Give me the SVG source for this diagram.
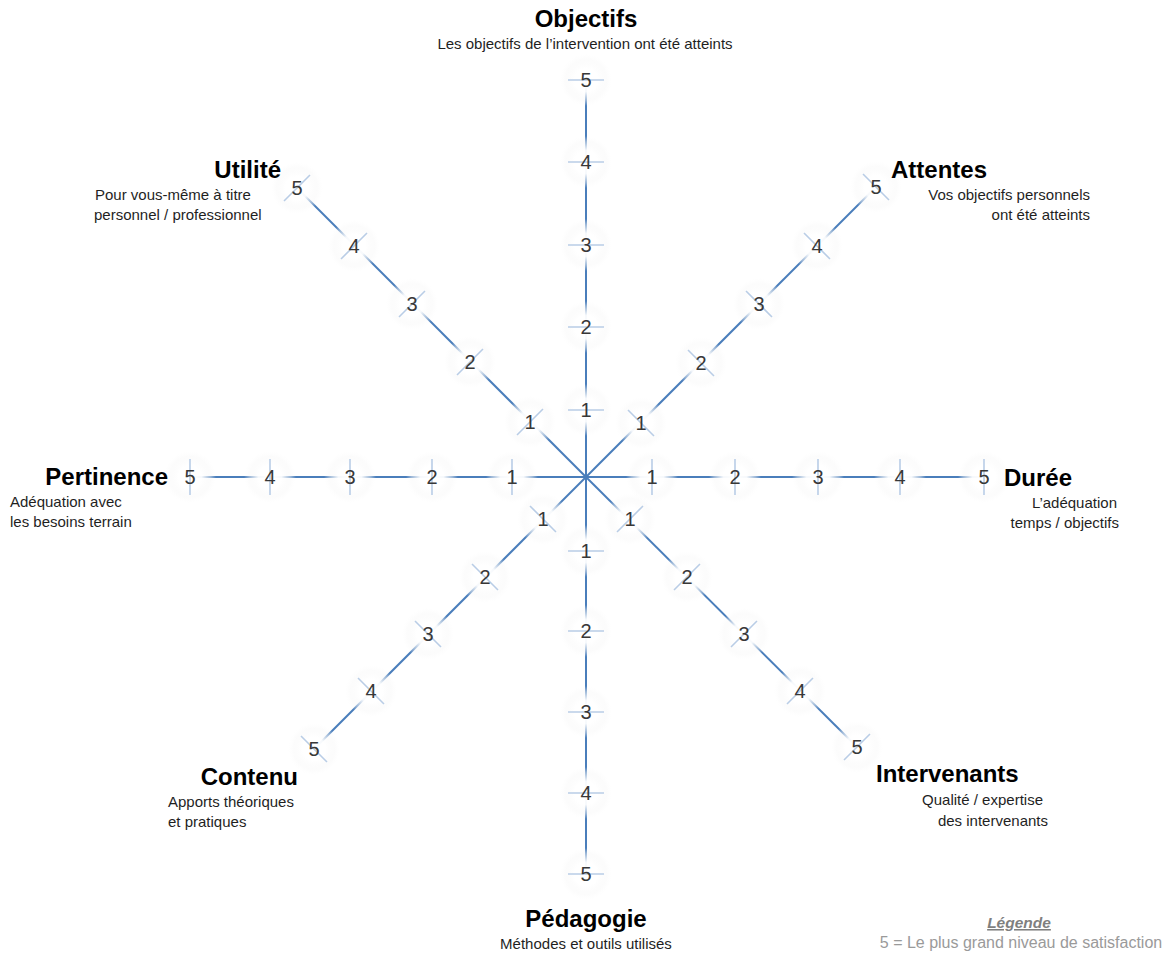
<svg xmlns="http://www.w3.org/2000/svg" width="1174" height="956" viewBox="0 0 1174 956">
<style>
.axis{stroke:#4a7ebb;stroke-width:2;fill:none}
.tick{stroke:#b9cde6;stroke-width:1.6;fill:none}
.num{font-family:"Liberation Sans",Arial,sans-serif;font-size:20px;fill:#383838;text-anchor:middle}
.title{font-family:"Liberation Sans",Arial,sans-serif;font-size:24px;font-weight:bold;fill:#000}
.sub{font-family:"Liberation Sans",Arial,sans-serif;font-size:15px;fill:#1f1f1f}
.halo{fill:url(#haloGrad)}
.legt{font-family:"Liberation Sans",Arial,sans-serif;font-size:15.5px;font-weight:bold;font-style:italic;text-decoration:underline;fill:#7f7f7f;text-anchor:middle}
.legs{font-family:"Liberation Sans",Arial,sans-serif;font-size:16px;fill:#9a9a9a;text-anchor:middle}
</style>
<defs>
<radialGradient id="haloGrad" cx="0.5" cy="0.5" r="0.5">
<stop offset="0" stop-color="#ffffff" stop-opacity="1"/>
<stop offset="0.45" stop-color="#ffffff" stop-opacity="0.95"/>
<stop offset="0.8" stop-color="#f8f8f8" stop-opacity="0.45"/>
<stop offset="1" stop-color="#fbfbfb" stop-opacity="0"/>
</radialGradient>
</defs>
<rect width="1174" height="956" fill="#ffffff"/>

<g id="connectors">
<line class="axis" x1="586" y1="80" x2="586" y2="874"/>
<line class="axis" x1="190" y1="477" x2="984" y2="477"/>
<line class="axis" x1="297" y1="188" x2="586" y2="477"/>
<line class="axis" x1="876" y1="187" x2="586" y2="477"/>
<line class="axis" x1="586" y1="477" x2="857" y2="747"/>
<line class="axis" x1="586" y1="477" x2="314" y2="749"/>
</g>

<g id="scale-objectifs">
<circle class="halo" cx="586" cy="410" r="26"/><circle class="halo" cx="586" cy="327" r="26"/><circle class="halo" cx="586" cy="245" r="26"/><circle class="halo" cx="586" cy="162" r="26"/><circle class="halo" cx="586" cy="80" r="26"/>
<path class="tick" d="M568 410H604M568 327H604M568 245H604M568 162H604M568 80H604"/>
<text class="num" x="586" y="417">1</text><text class="num" x="586" y="334">2</text><text class="num" x="586" y="252">3</text><text class="num" x="586" y="169">4</text><text class="num" x="586" y="87">5</text>
</g>
<g id="scale-pedagogie">
<circle class="halo" cx="586" cy="551" r="26"/><circle class="halo" cx="586" cy="631" r="26"/><circle class="halo" cx="586" cy="712" r="26"/><circle class="halo" cx="586" cy="793" r="26"/><circle class="halo" cx="586" cy="874" r="26"/>
<path class="tick" d="M568 551H604M568 631H604M568 712H604M568 793H604M568 874H604"/>
<text class="num" x="586" y="558">1</text><text class="num" x="586" y="638">2</text><text class="num" x="586" y="719">3</text><text class="num" x="586" y="800">4</text><text class="num" x="586" y="881">5</text>
</g>
<g id="scale-duree">
<circle class="halo" cx="652" cy="477" r="26"/><circle class="halo" cx="735" cy="477" r="26"/><circle class="halo" cx="818" cy="477" r="26"/><circle class="halo" cx="900" cy="477" r="26"/><circle class="halo" cx="984" cy="477" r="26"/>
<path class="tick" d="M652 459V495M735 459V495M818 459V495M900 459V495M984 459V495"/>
<text class="num" x="652" y="484">1</text><text class="num" x="735" y="484">2</text><text class="num" x="818" y="484">3</text><text class="num" x="900" y="484">4</text><text class="num" x="984" y="484">5</text>
</g>
<g id="scale-pertinence">
<circle class="halo" cx="512" cy="477" r="26"/><circle class="halo" cx="432" cy="477" r="26"/><circle class="halo" cx="350" cy="477" r="26"/><circle class="halo" cx="270" cy="477" r="26"/><circle class="halo" cx="190" cy="477" r="26"/>
<path class="tick" d="M512 459V495M432 459V495M350 459V495M270 459V495M190 459V495"/>
<text class="num" x="512" y="484">1</text><text class="num" x="432" y="484">2</text><text class="num" x="350" y="484">3</text><text class="num" x="270" y="484">4</text><text class="num" x="190" y="484">5</text>
</g>
<g id="scale-attentes">
<circle class="halo" cx="641" cy="423" r="26"/><circle class="halo" cx="701" cy="363" r="26"/><circle class="halo" cx="759" cy="304" r="26"/><circle class="halo" cx="817" cy="246" r="26"/><circle class="halo" cx="876" cy="187" r="26"/>
<path class="tick" d="M628 410L654 436M688 350L714 376M746 291L772 317M804 233L830 259M863 174L889 200"/>
<text class="num" x="641" y="430">1</text><text class="num" x="701" y="370">2</text><text class="num" x="759" y="311">3</text><text class="num" x="817" y="253">4</text><text class="num" x="876" y="194">5</text>
</g>
<g id="scale-utilite">
<circle class="halo" cx="530" cy="422" r="26"/><circle class="halo" cx="470" cy="362" r="26"/><circle class="halo" cx="412" cy="304" r="26"/><circle class="halo" cx="354" cy="246" r="26"/><circle class="halo" cx="297" cy="188" r="26"/>
<path class="tick" d="M517 435L543 409M457 375L483 349M399 317L425 291M341 259L367 233M284 201L310 175"/>
<text class="num" x="530" y="429">1</text><text class="num" x="470" y="369">2</text><text class="num" x="412" y="311">3</text><text class="num" x="354" y="253">4</text><text class="num" x="297" y="195">5</text>
</g>
<g id="scale-intervenants">
<circle class="halo" cx="630" cy="519" r="26"/><circle class="halo" cx="687" cy="577" r="26"/><circle class="halo" cx="744" cy="634" r="26"/><circle class="halo" cx="800" cy="691" r="26"/><circle class="halo" cx="857" cy="747" r="26"/>
<path class="tick" d="M617 532L643 506M674 590L700 564M731 647L757 621M787 704L813 678M844 760L870 734"/>
<text class="num" x="630" y="526">1</text><text class="num" x="687" y="584">2</text><text class="num" x="744" y="641">3</text><text class="num" x="800" y="698">4</text><text class="num" x="857" y="754">5</text>
</g>
<g id="scale-contenu">
<circle class="halo" cx="543" cy="519" r="26"/><circle class="halo" cx="485" cy="577" r="26"/><circle class="halo" cx="428" cy="634" r="26"/><circle class="halo" cx="371" cy="691" r="26"/><circle class="halo" cx="314" cy="749" r="26"/>
<path class="tick" d="M530 506L556 532M472 564L498 590M415 621L441 647M358 678L384 704M301 736L327 762"/>
<text class="num" x="543" y="526">1</text><text class="num" x="485" y="584">2</text><text class="num" x="428" y="641">3</text><text class="num" x="371" y="698">4</text><text class="num" x="314" y="756">5</text>
</g>

<g id="node-objectifs">
<text class="title" x="586" y="27" text-anchor="middle">Objectifs</text>
<text class="sub" x="585" y="49" text-anchor="middle">Les objectifs de l’intervention ont été atteints</text>
</g>
<g id="node-attentes">
<text class="title" x="891" y="178">Attentes</text>
<text class="sub" x="1090" y="200" text-anchor="end">Vos objectifs personnels</text>
<text class="sub" x="1090" y="220" text-anchor="end">ont été atteints</text>
</g>
<g id="node-utilite">
<text class="title" x="281" y="178" text-anchor="end">Utilité</text>
<text class="sub" x="95" y="200">Pour vous-même à titre</text>
<text class="sub" x="94" y="220">personnel / professionnel</text>
</g>
<g id="node-pertinence">
<text class="title" x="168" y="485" text-anchor="end">Pertinence</text>
<text class="sub" x="10" y="507">Adéquation avec</text>
<text class="sub" x="10" y="527">les besoins terrain</text>
</g>
<g id="node-duree">
<text class="title" x="1004" y="486">Durée</text>
<text class="sub" x="1117" y="508" text-anchor="end">L’adéquation</text>
<text class="sub" x="1119" y="528" text-anchor="end">temps / objectifs</text>
</g>
<g id="node-contenu">
<text class="title" x="298" y="785" text-anchor="end">Contenu</text>
<text class="sub" x="168" y="807">Apports théoriques</text>
<text class="sub" x="168" y="827">et pratiques</text>
</g>
<g id="node-intervenants">
<text class="title" x="876" y="782">Intervenants</text>
<text class="sub" x="1043" y="805" text-anchor="end">Qualité / expertise</text>
<text class="sub" x="1048" y="826" text-anchor="end">des intervenants</text>
</g>
<g id="node-pedagogie">
<text class="title" x="586" y="927" text-anchor="middle">Pédagogie</text>
<text class="sub" x="586" y="949" text-anchor="middle">Méthodes et outils utilisés</text>
</g>
<g id="legend">
<text class="legt" x="1019" y="928">Légende</text>
<text class="legs" x="1021" y="948">5 = Le plus grand niveau de satisfaction</text>
</g>
</svg>
